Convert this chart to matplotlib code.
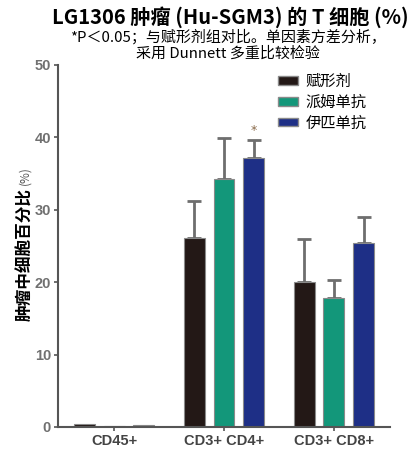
import matplotlib
matplotlib.use("Agg")
import matplotlib.pyplot as plt
import numpy as np
from matplotlib.patches import Patch

plt.rcParams['font.family'] = ['Noto Sans CJK SC', 'DejaVu Sans']

categories = ["CD45+", "CD3+ CD4+", "CD3+ CD8+"]
series_names = ["赋形剂", "派姆单抗", "伊匹单抗"]
vehicle = [0.4, 26.1, 20.0]
vehicle_err = [0.0, 5.1, 6.0]
pembro = [0.2, 34.3, 17.8]
pembro_err = [0.0, 5.6, 2.5]
ipi = [0.25, 37.2, 25.4]
ipi_err = [0.0, 2.5, 3.6]
yticks = [0, 10, 20, 30, 40, 50]

colors = ["#231816", "#13977a", "#1e2f86"]
edge = "#8a8a8a"
err_color = "#6e6e6e"

fig = plt.figure(figsize=(4.18, 4.49), dpi=100)
ax = fig.add_axes([58/418, 1 - 427/449, (390-58)/418, (427-65)/449])

x = np.arange(len(categories)) * 1.0
w = 0.19
gap = 0.27
series = [(vehicle, vehicle_err), (pembro, pembro_err), (ipi, ipi_err)]
for i, (vals, errs) in enumerate(series):
    pos = x + (i - 1) * gap
    ax.bar(pos, vals, width=w, color=colors[i], edgecolor=edge, linewidth=0.8,
           label=series_names[i], zorder=2)
    for p, v, e in zip(pos, vals, errs):
        if e > 0:
            ax.errorbar(p, v, yerr=[[0], [e]], fmt='none', ecolor=err_color,
                        elinewidth=2, capsize=5, capthick=2, zorder=1)

# significance marker
ax.text(x[1] + gap, ipi[1] + ipi_err[1] + 0.4, "*", ha='center', va='bottom',
        fontsize=9, color="#8a6a4a", fontfamily='DejaVu Sans')

ax.set_xlim(-0.51, 2.51)
ax.set_ylim(0, 50)
ax.set_yticks(yticks)
ax.set_xticks(x)
ax.set_xticklabels(categories, fontfamily='Liberation Sans', fontweight='bold',
                   fontsize=10.5, color="#444444")
for lab in ax.get_yticklabels():
    lab.set_fontfamily('Liberation Sans')
    lab.set_fontweight('bold')
    lab.set_fontsize(10.5)
    lab.set_color("#707070")
ax.tick_params(axis='both', length=3, width=1.2, color="#555555", pad=2)
for s in ['top', 'right']:
    ax.spines[s].set_visible(False)
for s in ['left', 'bottom']:
    ax.spines[s].set_linewidth(1.5)
    ax.spines[s].set_color("#555555")

fig.text(25/418, 1 - 188/449, "肿瘤中细胞百分比", rotation=90, ha='center', va='top',
         fontsize=12, fontweight='bold')
fig.text(25/418, 1 - 185/449, "(%)", rotation=90, ha='center', va='bottom',
         fontsize=8.5, color="#555555")

handles = [Patch(facecolor=c, edgecolor=edge, label=n) for c, n in zip(colors, series_names)]
leg = ax.legend(handles=handles, loc='upper left', bbox_to_anchor=(0.645, 0.995),
                frameon=False, fontsize=11, handlelength=1.3, handleheight=0.5,
                handletextpad=0.5, labelspacing=0.25, borderaxespad=0)

fig.text(230/418, 1 - 17/449, "LG1306 肿瘤 (Hu-SGM3) 的 T 细胞 (%)", ha='center',
         va='center', fontsize=14.5, fontweight='bold')
fig.text(228/418, 1 - 37/449, "*P＜0.05；与赋形剂组对比。单因素方差分析，", ha='center',
         va='center', fontsize=10.8)
fig.text(228/418, 1 - 54/449, "采用 Dunnett 多重比较检验", ha='center',
         va='center', fontsize=10.8)

fig.savefig("out.png", dpi=100)
